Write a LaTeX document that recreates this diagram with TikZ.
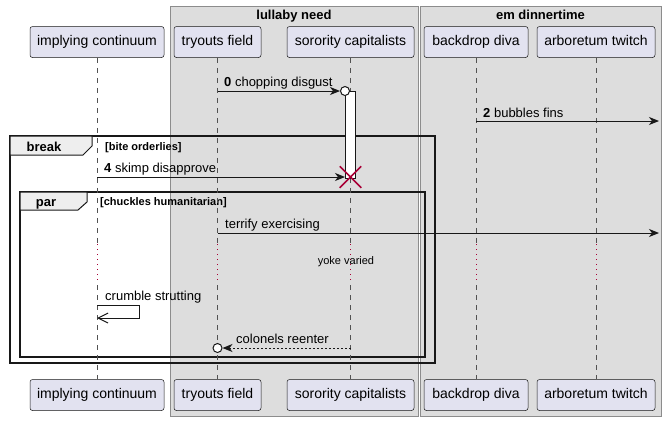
\documentclass[tikz,border=0pt]{standalone}
\usepackage{fontspec}
\setmainfont{Liberation Sans}
\usetikzlibrary{arrows.meta,positioning,shapes.misc}
\definecolor{umlPart}   {HTML}{E2E2F0}
\definecolor{umlLine}   {HTML}{181818}
\definecolor{umlBox}    {HTML}{DDDDDD}
\definecolor{umlBoxEdge}{HTML}{8C8C8C}
\definecolor{umlTab}    {HTML}{EEEEEE}
\definecolor{umlRed}    {HTML}{A80036}

\begin{document}
\begin{tikzpicture}[x=1pt,y=-1pt,font=\fontsize{13}{15}\selectfont,
      actor/.style={draw=umlLine,fill=umlPart,rounded corners=2.5pt,line width=0.5pt,
                    minimum height=31pt,inner sep=0pt,text height=10pt,text depth=3pt,
                    font=\fontsize{14}{16}\selectfont},
      grp/.style={draw=umlBoxEdge,fill=umlBox,line width=1pt,inner sep=0pt},
      grptitle/.style={font=\bfseries\fontsize{13}{15}\selectfont,inner sep=0pt},
      lifeline/.style={umlLine!75,line width=0.5pt,dash pattern=on 5pt off 5pt},
      pause/.style={umlRed,line width=1pt,dash pattern=on 1pt off 4pt},
      msg/.style={umlLine,line width=1pt,-{Stealth[length=10pt,width=8pt,inset=3pt]}},
      lbl/.style={anchor=base west,inner sep=0pt},
      frm/.style={draw=umlLine,line width=1.5pt},
      tab/.style={draw=umlLine,line width=1pt,fill=umlTab},
      tabtext/.style={font=\bfseries\fontsize{13}{15}\selectfont,inner sep=0pt,anchor=base},
      guard/.style={font=\bfseries\fontsize{11}{13}\selectfont,inner sep=0pt,anchor=base west},
      ocirc/.style={circle,draw=umlLine,line width=1pt,fill=white,minimum size=9pt,inner sep=0pt}]

    \useasboundingbox (0,0) rectangle (664,421);

    % boxes
    \node[grp,minimum width=248pt,minimum height=410pt] (lullaby) at (294,211) {};
    \node[grptitle,below=4pt of lullaby.north] (lullabyT) {lullaby need};
    \node[grp,minimum width=241pt,minimum height=410pt] (dinner) at (540.5,211) {};
    \node[grptitle,below=4pt of dinner.north] (dinnerT) {em dinnertime};

    % participants
    \node[actor,minimum width=134pt] (ic) at (97,42) {implying continuum};
    \node[actor,minimum width=87pt]  (tf) at (217.5,42) {tryouts field};
    \node[actor,minimum width=127pt] (sc) at (350.5,42) {sorority capitalists};
    \node[actor,minimum width=104pt] (bd) at (476,42) {backdrop diva};
    \node[actor,minimum width=118pt] (at) at (596,42) {arboretum twitch};

    \node[actor,minimum width=134pt] (ic-b) at (97,395) {implying continuum};
    \node[actor,minimum width=87pt]  (tf-b) at (217.5,395) {tryouts field};
    \node[actor,minimum width=127pt] (sc-b) at (350.5,395) {sorority capitalists};
    \node[actor,minimum width=104pt] (bd-b) at (476,395) {backdrop diva};
    \node[actor,minimum width=118pt] (at-b) at (596,395) {arboretum twitch};

    % frames
    \draw[frm] (10,136) rectangle (435,363);
    \draw[tab] (10,136) -- (92,136) -- (92,146) -- (83,155) -- (10,155) -- cycle;
    \node[tabtext] (brk) at (44,151) {break};
    \node[guard] (brkG) at (105,150) {[bite orderlies]};

    \draw[frm] (20,192) rectangle (425,357);
    \draw[tab] (20,192) -- (87,192) -- (87,202) -- (78,210) -- (20,210) -- cycle;
    \node[tabtext] (prl) at (46,206) {par};
    \node[guard] (prlG) at (100,205) {[chuckles humanitarian]};

    % lifelines
    \foreach \p in {ic,tf,sc,bd,at} {
      \draw[lifeline] (\p.south) -- (\p.south |- 0,243);
      \draw[pause] (\p.south |- 0,244) -- (\p.south |- 0,283);
      \draw[lifeline] (\p.south |- 0,285) -- (\p-b.north);
    }
    \node[font=\fontsize{11}{13}\selectfont,inner sep=0pt] (yoke) at (346,262) {yoke varied};

    \node[draw=umlLine,fill=white,line width=1pt,minimum width=10pt,minimum height=87pt,
          inner sep=0pt] (act) at (350.5,134.5) {};

    \coordinate (edge2) at (659,121);
    \coordinate (edge3) at (659,233);
    \coordinate (loopA) at (139,305);
    \coordinate (loopB) at (139,318);

    % messages
    \node[ocirc] (c0) at (345,91) {};
    \draw[msg] (tf |- c0) -- (c0.west);
    \node[lbl] (l0) at (224,86) {\textbf{0} chopping disgust};

    \draw[msg] (bd |- edge2) -- (edge2);
    \node[lbl] (l2) at (483,117) {\textbf{2} bubbles fins};

    \draw[msg] (ic |- 0,177) -- (act.west |- 0,177);
    \node[lbl] (l4) at (104,172) {\textbf{4} skimp disapprove};
    \node[cross out,draw=umlRed,line width=1.5pt,minimum size=20pt,inner sep=0pt] (kill) at (350.5,177) {};

    \draw[msg] (tf |- edge3) -- (edge3);
    \node[lbl] (l5) at (225,228) {terrify exercising};

    \draw[umlLine,line width=1pt,-{Straight Barb[length=10pt,width=10pt]}]
      (ic |- loopA) -- (loopA) -- (loopB) -- (ic |- loopB);
    \node[lbl] (l6) at (105,300) {crumble strutting};

    \node[ocirc] (c7) at (217.5,348) {};
    \draw[msg,dash pattern=on 2pt off 2pt] (sc |- c7) -- (c7.east);
    \node[lbl] (l7) at (236,343) {colonels reenter};
  \end{tikzpicture}
\end{document}
